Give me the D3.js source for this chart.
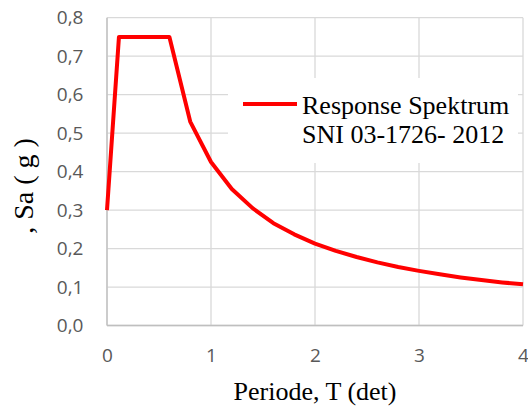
<!DOCTYPE html>
<html>
<head>
<meta charset="utf-8">
<script src="https://cdn.jsdelivr.net/npm/d3@7"></script>
<style>
  body { margin: 0; background: #fff; }
  svg { display: block; }
</style>
</head>
<body>
<svg id="chart" width="528" height="407"></svg>
<script>
// periode T (det)
var periodValues = [0, 0.115, 0.6, 0.8, 1.0, 1.2, 1.4, 1.6, 1.8, 2.0, 2.2, 2.4, 2.6, 2.8, 3.0, 3.2, 3.4, 3.6, 3.8, 4.0];
// Sa (g)
var saValues = [0.3, 0.75, 0.75, 0.53, 0.425, 0.355, 0.305, 0.266, 0.237, 0.213, 0.194, 0.178, 0.164, 0.152, 0.142, 0.133, 0.125, 0.118, 0.112, 0.107];
var xTicks = [0, 1, 2, 3, 4];
var yTicks = [0, 0.1, 0.2, 0.3, 0.4, 0.5, 0.6, 0.7, 0.8];
var seriesName = ["Response Spektrum", "SNI 03-1726- 2012"];

var svg = d3.select("#chart"),
	x0 = 107, x1 = 523,
	y0 = 325.5, y1 = 17.7;

var x = d3.scaleLinear().domain([0, 4]).range([x0, x1]);
var y = d3.scaleLinear().domain([0, 0.8]).range([y0, y1]);
var fmt = function (d) { return d3.format(".1f")(d).replace(".", ","); };

// gridlines
svg.append("g").selectAll("line.h")
	.data(yTicks)
	.enter().append("line")
	.attr("x1", x0).attr("x2", x1)
	.attr("y1", function (d) { return y(d); })
	.attr("y2", function (d) { return y(d); })
	.attr("stroke", "#d9d9d9").attr("stroke-width", 1.3);

svg.append("g").selectAll("line.v")
	.data(xTicks)
	.enter().append("line")
	.attr("y1", y0).attr("y2", y1)
	.attr("x1", function (d) { return x(d); })
	.attr("x2", function (d) { return x(d); })
	.attr("stroke", "#d9d9d9").attr("stroke-width", 1.3);

// axes
svg.append("line").attr("x1", x0).attr("x2", x0).attr("y1", y0).attr("y2", y1)
	.attr("stroke", "#bfbfbf").attr("stroke-width", 1.3);
svg.append("line").attr("x1", x0).attr("x2", x1).attr("y1", y0).attr("y2", y0)
	.attr("stroke", "#bfbfbf").attr("stroke-width", 1.3);

var yAxis = d3.axisLeft(y).tickValues(yTicks).tickFormat(fmt).tickSize(0).tickPadding(23.5);
var gy = svg.append("g").attr("transform", "translate(" + x0 + ",0)").call(yAxis);
gy.select(".domain").remove();
gy.selectAll("text").attr("fill", "#595959").style("font-family", "'Open Sans', sans-serif").style("font-size", "19px");

var xAxis = d3.axisBottom(x).tickValues(xTicks).tickFormat(d3.format("d")).tickSize(0).tickPadding(23);
var gx = svg.append("g").attr("transform", "translate(0," + y0 + ")").call(xAxis);
gx.select(".domain").remove();
gx.selectAll("text").attr("fill", "#595959").style("font-family", "'Open Sans', sans-serif").style("font-size", "19px");

// legend background
svg.append("rect").attr("x", 228).attr("y", 78).attr("width", 290).attr("height", 85).attr("fill", "#fff");

// series
var line = d3.line()
	.x(function (d) { return x(d[0]); })
	.y(function (d) { return y(d[1]); });
svg.append("path")
	.datum(d3.zip(periodValues, saValues))
	.attr("d", line)
	.attr("fill", "none")
	.attr("stroke", "#ff0000")
	.attr("stroke-width", 4)
	.attr("stroke-linejoin", "round");

// legend
svg.append("line").attr("x1", 243).attr("x2", 297).attr("y1", 104).attr("y2", 104)
	.attr("stroke", "#ff0000").attr("stroke-width", 4);
svg.append("text").attr("x", 302).attr("y", 114)
	.style("font-family", "'Liberation Serif', serif").style("font-size", "26px").attr("fill", "#000")
	.text(seriesName[0]);
svg.append("text").attr("x", 302).attr("y", 143)
	.style("font-family", "'Liberation Serif', serif").style("font-size", "26px").attr("fill", "#000")
	.text(seriesName[1]);

// axis titles
svg.append("text").attr("x", 315).attr("y", 400).attr("text-anchor", "middle")
	.style("font-family", "'Liberation Serif', serif").style("font-size", "26px")
	.text("Periode, T (det)");
svg.append("text").attr("transform", "translate(33,186) rotate(-90)").attr("text-anchor", "middle")
	.style("font-family", "'Liberation Serif', serif").style("font-size", "28px")
	.text(", Sa ( g )");
</script>
</body>
</html>
